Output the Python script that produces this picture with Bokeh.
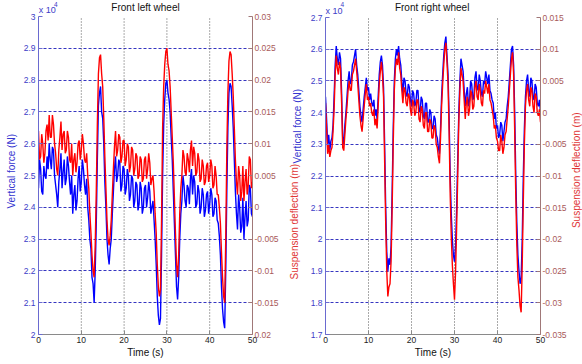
import json
import numpy as np
from bokeh.plotting import figure
from bokeh.models import Range1d, LinearAxis, FixedTicker, Label, CustomJSTickFormatter, Title
from bokeh.layouts import row
from bokeh.embed import file_html
from bokeh.resources import INLINE

# ---------------- data (sampled every 0.25 s, 0 .. 50 s) ----------------
time_s = np.arange(201) * 0.25

# Front left wheel: vertical force (x 1e4 N), each row = 2 s
left_force = [
    2.46, 2.55, 2.52, 2.45, 2.44, 2.53, 2.50, 2.49,
    2.56, 2.52, 2.60, 2.55, 2.52, 2.59, 2.58, 2.50,
    2.47, 2.44, 2.40, 2.48, 2.52, 2.57, 2.46, 2.51,
    2.55, 2.47, 2.49, 2.56, 2.53, 2.48, 2.44, 2.50,
    2.38, 2.44, 2.47, 2.39, 2.42, 2.49, 2.53, 2.45,
    2.48, 2.55, 2.52, 2.47, 2.44, 2.49, 2.40, 2.36,
    2.30, 2.27, 2.18, 2.16, 2.10, 2.20, 2.35, 2.55,
    2.72, 2.76, 2.78, 2.70, 2.68, 2.60, 2.48, 2.40,
    2.30, 2.25, 2.22, 2.27, 2.30, 2.38, 2.45, 2.52,
    2.56, 2.48, 2.50, 2.55, 2.54, 2.45, 2.47, 2.53,
    2.52, 2.44, 2.46, 2.52, 2.50, 2.42, 2.44, 2.50,
    2.49, 2.40, 2.42, 2.48, 2.47, 2.39, 2.41, 2.48,
    2.46, 2.38, 2.40, 2.46, 2.47, 2.40, 2.43, 2.48,
    2.45, 2.38, 2.40, 2.42, 2.36, 2.30, 2.22, 2.12,
    2.06, 2.03, 2.05, 2.25, 2.50, 2.66, 2.74, 2.79,
    2.80, 2.76, 2.74, 2.70, 2.62, 2.55, 2.45, 2.35,
    2.25, 2.15, 2.11, 2.18, 2.30, 2.38, 2.42, 2.50,
    2.47, 2.42, 2.40, 2.47, 2.46, 2.41, 2.49, 2.52,
    2.44, 2.50, 2.48, 2.40, 2.41, 2.47, 2.45, 2.38,
    2.40, 2.46, 2.44, 2.37, 2.39, 2.44, 2.45, 2.38,
    2.41, 2.46, 2.44, 2.37, 2.38, 2.43, 2.42, 2.36,
    2.35, 2.31, 2.25, 2.15, 2.08, 2.04, 2.02, 2.20,
    2.45, 2.65, 2.76, 2.79, 2.78, 2.72, 2.65, 2.55,
    2.45, 2.38, 2.33, 2.44, 2.40, 2.32, 2.34, 2.43,
    2.30, 2.37, 2.42, 2.34, 2.36, 2.47, 2.46, 2.38,
    2.37]
# Front left wheel: suspension deflection (m)
left_defl = [
    0.012, 0.0075, 0.008, 0.0115, 0.010, 0.007, 0.0085, 0.012,
    0.013, 0.0105, 0.0145, 0.011, 0.011, 0.0145, 0.013, 0.010,
    0.0085, 0.006, 0.005, 0.009, 0.011, 0.0135, 0.009, 0.0115,
    0.012, 0.0085, 0.009, 0.012, 0.011, 0.0075, 0.007, 0.010,
    0.005, 0.0075, 0.0085, 0.0055, 0.007, 0.010, 0.0105, 0.0075,
    0.009, 0.0115, 0.010, 0.0075, 0.007, 0.0085, 0.005, 0.003,
    -0.001, -0.004, -0.0075, -0.010, -0.011, -0.006, 0.0025, 0.013,
    0.021, 0.0235, 0.024, 0.021, 0.019, 0.014, 0.008, 0.003,
    -0.002, -0.005, -0.006, -0.0045, -0.002, 0.002, 0.006, 0.0095,
    0.012, 0.008, 0.009, 0.0115, 0.011, 0.007, 0.008, 0.0105,
    0.0105, 0.0065, 0.0075, 0.010, 0.0095, 0.0055, 0.0065, 0.0095,
    0.009, 0.005, 0.006, 0.0085, 0.008, 0.0045, 0.005, 0.008,
    0.0075, 0.004, 0.0045, 0.0075, 0.008, 0.0045, 0.006, 0.0085,
    0.007, 0.0035, 0.0045, 0.005, 0.0025, -0.001, -0.004, -0.009,
    -0.0125, -0.014, -0.013, -0.002, 0.0125, 0.019, 0.0225, 0.0245,
    0.025, 0.0225, 0.0215, 0.019, 0.015, 0.011, 0.007, 0.0015,
    -0.004, -0.009, -0.011, -0.0075, -0.001, 0.003, 0.005, 0.009,
    0.008, 0.0055, 0.005, 0.0085, 0.0075, 0.0055, 0.009, 0.0105,
    0.0065, 0.0095, 0.0085, 0.005, 0.0055, 0.0085, 0.0075, 0.004,
    0.0045, 0.0075, 0.0065, 0.0035, 0.004, 0.0065, 0.007, 0.004,
    0.005, 0.0075, 0.0065, 0.003, 0.0035, 0.0065, 0.005, 0.002,
    0.002, 0.0, -0.0025, -0.007, -0.011, -0.014, -0.015, -0.005,
    0.009, 0.018, 0.023, 0.0245, 0.024, 0.021, 0.0175, 0.0125,
    0.0075, 0.004, 0.002, 0.0065, 0.005, 0.001, 0.0025, 0.0065,
    0.001, 0.004, 0.006, 0.002, 0.0035, 0.008, 0.0075, 0.003,
    0.004]

# Front right wheel: vertical force (x 1e4 N)
right_force = [
    2.45, 2.38, 2.30, 2.33, 2.28, 2.31, 2.32, 2.36,
    2.45, 2.55, 2.61, 2.57, 2.55, 2.59, 2.57, 2.46,
    2.32, 2.30, 2.36, 2.40, 2.45, 2.50, 2.53, 2.49,
    2.50, 2.55, 2.56, 2.58, 2.60, 2.55, 2.52, 2.47,
    2.42, 2.39, 2.37, 2.41, 2.45, 2.48, 2.51, 2.47,
    2.48, 2.44, 2.46, 2.43, 2.42, 2.44, 2.39, 2.41,
    2.38, 2.45, 2.52, 2.56, 2.58, 2.55, 2.48, 2.30,
    2.10, 1.96, 1.90, 1.94, 1.92, 1.98, 2.15, 2.35,
    2.50, 2.57, 2.60, 2.58, 2.61, 2.57, 2.55, 2.50,
    2.46, 2.51, 2.50, 2.46, 2.45, 2.49, 2.48, 2.44,
    2.42, 2.47, 2.46, 2.42, 2.43, 2.47, 2.47, 2.41,
    2.40, 2.45, 2.44, 2.39, 2.38, 2.43, 2.43, 2.37,
    2.37, 2.41, 2.40, 2.35, 2.35, 2.39, 2.38, 2.33,
    2.32, 2.29, 2.27, 2.35, 2.45, 2.52, 2.58, 2.62,
    2.64, 2.58, 2.52, 2.38, 2.20, 2.08, 2.00, 1.95,
    1.93, 1.98, 2.10, 2.25, 2.40, 2.50, 2.57, 2.55,
    2.53, 2.47, 2.42, 2.46, 2.48, 2.42, 2.44, 2.50,
    2.49, 2.44, 2.45, 2.51, 2.53, 2.48, 2.47, 2.52,
    2.50, 2.46, 2.45, 2.50, 2.49, 2.53, 2.51, 2.49,
    2.52, 2.47, 2.46, 2.44, 2.43, 2.38, 2.40, 2.35,
    2.36, 2.32, 2.33, 2.37, 2.36, 2.31, 2.34, 2.37,
    2.38, 2.42, 2.45, 2.50, 2.55, 2.60, 2.61, 2.55,
    2.40, 2.20, 2.05, 1.95, 1.90, 1.86, 1.88, 2.00,
    2.20, 2.35, 2.45, 2.50, 2.52, 2.47, 2.45, 2.51,
    2.50, 2.45, 2.44, 2.49, 2.48, 2.43, 2.42, 2.44,
    2.40]
# Front right wheel: suspension deflection (m)
right_defl = [
    0.0015, -0.0025, -0.0065, -0.005, -0.007, -0.006, -0.0055, -0.003,
    0.0005, 0.006, 0.009, 0.007, 0.006, 0.008, 0.007, 0.0015,
    -0.0055, -0.006, -0.0035, -0.001, 0.001, 0.0035, 0.005, 0.0035,
    0.0035, 0.006, 0.0065, 0.0075, 0.0085, 0.0065, 0.0045, 0.002,
    -0.0005, -0.002, -0.003, -0.001, 0.001, 0.003, 0.0045, 0.002,
    0.0025, 0.001, 0.0015, 0.0, -0.0005, 0.0005, -0.002, -0.001,
    -0.0025, 0.001, 0.0045, 0.0065, 0.008, 0.006, 0.0025, -0.0075,
    -0.0175, -0.025, -0.029, -0.0275, -0.027, -0.0235, -0.015, -0.005,
    0.0035, 0.007, 0.0085, 0.0075, 0.0095, 0.007, 0.006, 0.0035,
    0.0015, 0.004, 0.0035, 0.0015, 0.001, 0.003, 0.0025, 0.0005,
    -0.0005, 0.002, 0.0015, -0.0005, 0.0, 0.002, 0.002, -0.001,
    -0.0015, 0.001, 0.0005, -0.002, -0.0025, 0.0, 0.0, -0.003,
    -0.003, -0.001, -0.0015, -0.004, -0.004, -0.002, -0.0025, -0.005,
    -0.0055, -0.007, -0.008, -0.004, 0.001, 0.0045, 0.0075, 0.010,
    0.011, 0.008, 0.0045, -0.003, -0.013, -0.0195, -0.024, -0.027,
    -0.0295, -0.025, -0.018, -0.010, -0.0015, 0.0035, 0.007, 0.006,
    0.005, 0.002, -0.001, 0.0015, 0.0025, -0.0005, 0.0005, 0.0035,
    0.003, 0.0005, 0.001, 0.004, 0.005, 0.0025, 0.002, 0.0045,
    0.0035, 0.0015, 0.001, 0.0035, 0.003, 0.005, 0.004, 0.003,
    0.0045, 0.002, 0.0015, 0.0005, -0.0005, -0.0025, -0.002, -0.004,
    -0.0045, -0.006, -0.006, -0.0035, -0.0045, -0.0065, -0.0055, -0.0035,
    -0.003, -0.001, 0.001, 0.0035, 0.006, 0.0085, 0.0095, 0.006,
    -0.003, -0.013, -0.021, -0.026, -0.028, -0.0305, -0.0315, -0.024,
    -0.014, -0.005, 0.001, 0.0035, 0.0045, 0.002, 0.001, 0.004,
    0.0035, 0.001, 0.0, 0.003, 0.0025, 0.0, -0.0005, 0.0005,
    -0.0015]

time_ticks = [0, 10, 20, 30, 40, 50]
time_labels = ["0", "10", "20", "30", "40", "50"]
left_force_ticks = [2.0, 2.1, 2.2, 2.3, 2.4, 2.5, 2.6, 2.7, 2.8, 2.9, 3.0]
left_force_labels = ["2", "2.1", "2.2", "2.3", "2.4", "2.5", "2.6", "2.7", "2.8", "2.9", "3"]
left_defl_ticks = [-0.02, -0.015, -0.01, -0.005, 0.0, 0.005, 0.01, 0.015, 0.02, 0.025, 0.03]
left_defl_labels = ["0.02", "-0.015", "-0.01", "-0.005", "0", "0.005", "0.01", "0.015", "0.02", "0.025", "0.03"]
right_force_ticks = [1.7, 1.8, 1.9, 2.0, 2.1, 2.2, 2.3, 2.4, 2.5, 2.6, 2.7]
right_force_labels = ["1.7", "1.8", "1.9", "2", "2.1", "2.2", "2.3", "2.4", "2.5", "2.6", "2.7"]
right_defl_ticks = [-0.035, -0.03, -0.025, -0.02, -0.015, -0.01, -0.005, 0.0, 0.005, 0.01, 0.015]
right_defl_labels = ["-0.035", "-0.03", "-0.025", "-0.02", "-0.015", "-0.01", "-0.005", "0", "0.005", "0.01", "0.015"]

FONT = "Liberation Sans"
BLUE_AX = "#3c3cc8"
RED_AX = "#a85a5a"
BLUE_LBL = "#3535d0"
RED_LBL = "#e03535"


def fmt(ticks, labels):
    code = ("const T=%s; const L=%s; for (let i=0;i<T.length;i++){ if (Math.abs(tick-T[i])<1e-9) return L[i]; } return '';"
            % (json.dumps(ticks), json.dumps(labels)))
    return CustomJSTickFormatter(code=code)


def style_axis(ax, line_color, text_color, standoff=3):
    ax.axis_line_color = line_color
    ax.major_tick_line_color = line_color
    ax.major_tick_in = 4
    ax.major_tick_out = 0
    ax.minor_tick_line_color = None
    ax.major_label_text_color = text_color
    ax.major_label_text_font = FONT
    ax.major_label_text_font_size = "8.5px"
    ax.major_label_standoff = standoff
    ax.axis_label_text_font = FONT
    ax.axis_label_text_font_size = "10px"
    ax.axis_label_text_font_style = "normal"


def lab(p, x, y, text, color, size="10px", align="center", baseline="middle", angle=0.0):
    p.add_layout(Label(x=x, y=y, text=text, text_color=color, text_font_size=size,
                       text_font=FONT, text_align=align, text_baseline=baseline, angle=angle))


def side_title(p, text, color, offset, standoff, side="left"):
    p.add_layout(Title(text=text, text_color=color, text_font=FONT, text_font_size="10px",
                       text_font_style="normal", align="left", offset=offset,
                       standoff=standoff, vertical_align="bottom"), side)


def spacer(width):
    # narrow strip of the page used only for the rotated axis captions (x, y in page pixels)
    s = figure(width=width, height=364, x_range=Range1d(0, width), y_range=Range1d(364, 0),
               x_axis_location=None, y_axis_location=None, output_backend="svg",
               toolbar_location=None, min_border=0)
    s.outline_line_color = None
    s.background_fill_color = "white"
    s.border_fill_color = "white"
    s.xgrid.visible = False
    s.ygrid.visible = False
    return s


def panel(width, bl, br, top_px, f_ticks, f_labels, d_ticks, d_labels, force, defl):
    f0, f1 = f_ticks[0], f_ticks[-1]
    d0, d1 = d_ticks[0], d_ticks[-1]
    fscale = (334.0 - top_px) / (f1 - f0)      # px per force unit
    dscale = (334.0 - top_px) / (d1 - d0)
    p = figure(width=width, height=364, x_range=Range1d(0, 50),
               y_range=Range1d(f0, f1 + top_px / fscale),
               output_backend="svg", toolbar_location=None,
               min_border_left=bl, min_border_right=br, min_border_top=0, min_border_bottom=30)
    p.extra_y_ranges = {"defl": Range1d(d0, d1 + top_px / dscale)}
    p.outline_line_color = None
    p.background_fill_color = "white"
    p.border_fill_color = "white"

    p.xaxis.ticker = FixedTicker(ticks=time_ticks)
    p.xaxis.formatter = fmt(time_ticks, time_labels)
    style_axis(p.xaxis[0], "#8a8a8a", "#222222", standoff=2)
    p.xaxis.axis_label = "Time (s)"
    p.xaxis.axis_label_standoff = 1
    p.xaxis.axis_label_text_color = "#111111"

    p.yaxis.ticker = FixedTicker(ticks=f_ticks)
    p.yaxis.formatter = fmt(f_ticks, f_labels)
    p.yaxis.bounds = (f0, f1)
    style_axis(p.yaxis[0], "#6a6ad0", BLUE_AX)

    rax = LinearAxis(y_range_name="defl", ticker=FixedTicker(ticks=d_ticks), formatter=fmt(d_ticks, d_labels),
                     bounds=(d0, d1))
    style_axis(rax, "#a07878", RED_AX, standoff=2)
    p.add_layout(rax, "right")

    p.xgrid.visible = False
    p.ygrid.ticker = FixedTicker(ticks=f_ticks[1:-1])
    p.ygrid.grid_line_color = "#3535c0"
    p.ygrid.grid_line_dash = "3 2"
    p.ygrid.grid_line_width = 1
    vx = time_ticks[1:-1]
    p.segment(x0=vx, y0=[f0] * len(vx), x1=vx, y1=[f1] * len(vx),
              line_color="#555555", line_dash="1 2", line_width=1)

    p.line(time_s, force, line_color="#0000ff", line_width=1.4)
    p.line(time_s, defl, line_color="#ff0000", line_width=1.4, y_range_name="defl")
    return p, rax


# ---------------- left panel (page x 0..281) ----------------
p1, r1 = panel(281, 37, 27, 16, left_force_ticks, left_force_labels,
               left_defl_ticks, left_defl_labels, left_force, left_defl)
side_title(p1, "Vertical force (N)", BLUE_LBL, offset=126, standoff=7)
lab(p1, 25.0, 3.027, "Front left wheel", "#111111")
lab(p1, 0.05, 3.019, "x 10", BLUE_AX, size="9px", align="left")
lab(p1, 3.6, 3.037, "4", BLUE_AX, size="6.5px", align="left")

# ---------------- middle caption strip (page x 281..307) ----------------
pm = spacer(26)
lab(pm, 15.5, 137, "Vertical force (N)", BLUE_LBL, angle=np.pi / 2)
lab(pm, 13, 241, "Suspension deflection (m)", RED_LBL, angle=np.pi / 2)

# ---------------- right panel (page x 307..569) ----------------
p2, r2 = panel(262, 16, 28, 17, right_force_ticks, right_force_labels,
               right_defl_ticks, right_defl_labels, right_force, right_defl)
lab(p2, 24.8, 2.73, "Front right wheel", "#111111")
lab(p2, 0.0, 2.722, "x 10", BLUE_AX, size="9px", align="left")
lab(p2, 3.5, 2.742, "4", BLUE_AX, size="6.5px", align="left")

# ---------------- right caption strip (page x 569..582) ----------------
pr = spacer(13)
lab(pr, 7, 185, "Suspension deflection (m)", RED_LBL, angle=np.pi / 2)

layout = row(p1, pm, p2, pr)
open("out.html", "w").write(file_html(layout, INLINE))
